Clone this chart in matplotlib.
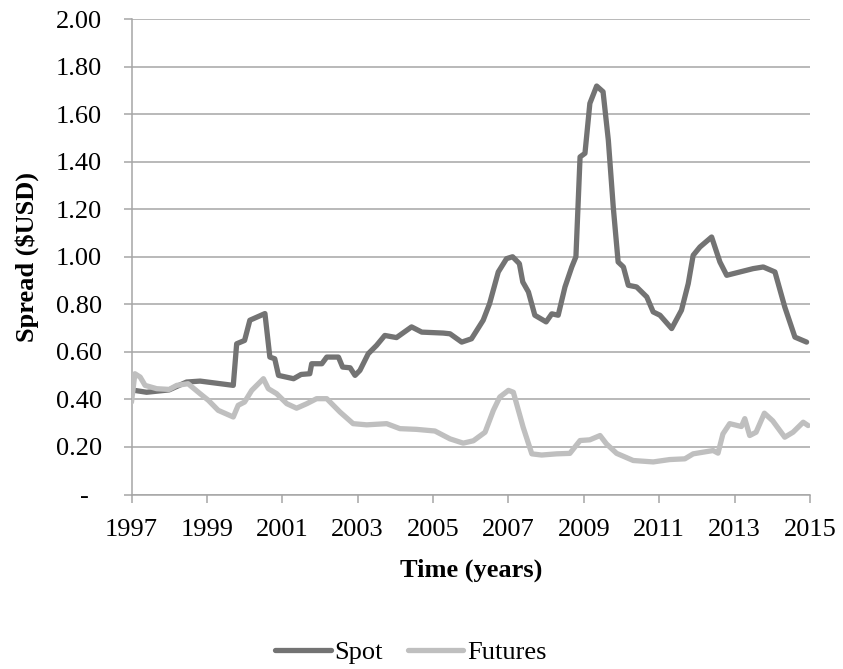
import matplotlib
matplotlib.use("Agg")
import matplotlib.pyplot as plt
from matplotlib.ticker import FixedLocator

spot_years = [1997.0, 1997.4, 1998.0, 1998.46, 1998.82, 1999.7, 1999.79, 2000.0, 2000.14, 2000.54,
              2000.67, 2000.8, 2000.9, 2001.3, 2001.5, 2001.73, 2001.78, 2002.05, 2002.18, 2002.49,
              2002.6, 2002.8, 2002.93, 2003.06, 2003.28, 2003.5, 2003.72, 2004.03, 2004.43, 2004.7,
              2005.27, 2005.45, 2005.76, 2006.02, 2006.33, 2006.5, 2006.73, 2006.95, 2007.11, 2007.29,
              2007.38, 2007.53, 2007.7, 2008.0, 2008.15, 2008.32, 2008.5, 2008.68, 2008.79, 2008.9,
              2009.03, 2009.16, 2009.34, 2009.51, 2009.65, 2009.78, 2009.91, 2010.05, 2010.18, 2010.4,
              2010.67, 2010.84, 2011.02, 2011.33, 2011.59, 2011.77, 2011.9, 2012.08, 2012.39, 2012.61,
              2012.79, 2013.14, 2013.49, 2013.76, 2014.07, 2014.33, 2014.6, 2014.91]
spot_values = [0.44, 0.43, 0.44, 0.473, 0.477, 0.459, 0.634, 0.648, 0.733, 0.761,
               0.578, 0.571, 0.501, 0.487, 0.505, 0.508, 0.55, 0.55, 0.578, 0.578,
               0.536, 0.533, 0.501, 0.522, 0.592, 0.627, 0.669, 0.66, 0.705, 0.683,
               0.679, 0.676, 0.641, 0.655, 0.733, 0.803, 0.936, 0.992, 1.0, 0.971,
               0.894, 0.852, 0.754, 0.726, 0.76, 0.754, 0.873, 0.957, 1.0, 1.42,
               1.435, 1.645, 1.718, 1.694, 1.49, 1.21, 0.978, 0.957, 0.88, 0.873,
               0.831, 0.768, 0.754, 0.698, 0.775, 0.887, 1.006, 1.041, 1.083, 0.978,
               0.922, 0.936, 0.95, 0.957, 0.936, 0.789, 0.662, 0.641]

futures_years = [1997.0, 1997.09, 1997.23, 1997.36, 1997.67, 1998.0, 1998.2, 1998.5, 1998.82, 1999.04,
                 1999.3, 1999.7, 1999.83, 2000.0, 2000.19, 2000.5, 2000.63, 2000.85, 2001.12, 2001.38,
                 2001.65, 2001.91, 2002.18, 2002.53, 2002.88, 2003.24, 2003.77, 2004.12, 2004.56, 2005.05,
                 2005.45, 2005.8, 2006.07, 2006.38, 2006.6, 2006.77, 2007.0, 2007.13, 2007.39, 2007.62,
                 2007.88, 2008.28, 2008.63, 2008.9, 2009.16, 2009.43, 2009.6, 2009.87, 2010.31, 2010.84,
                 2011.28, 2011.68, 2011.9, 2012.43, 2012.56, 2012.69, 2012.87, 2013.18, 2013.27, 2013.4,
                 2013.57, 2013.79, 2014.01, 2014.33, 2014.55, 2014.82, 2014.95]
futures_values = [0.389, 0.508, 0.494, 0.459, 0.445, 0.442, 0.459, 0.466, 0.424, 0.396,
                  0.354, 0.326, 0.375, 0.389, 0.438, 0.487, 0.445, 0.424, 0.382, 0.363,
                  0.382, 0.403, 0.403, 0.347, 0.298, 0.293, 0.298, 0.277, 0.274, 0.267,
                  0.234, 0.216, 0.226, 0.262, 0.354, 0.41, 0.438, 0.43, 0.283, 0.171,
                  0.166, 0.171, 0.173, 0.227, 0.23, 0.248, 0.213, 0.173, 0.143, 0.137,
                  0.147, 0.15, 0.171, 0.185, 0.174, 0.255, 0.298, 0.286, 0.319, 0.248,
                  0.262, 0.342, 0.31, 0.241, 0.262, 0.304, 0.29]

x_ticks = [1997, 1999, 2001, 2003, 2005, 2007, 2009, 2011, 2013, 2015]
y_ticks = [0.0, 0.2, 0.4, 0.6, 0.8, 1.0, 1.2, 1.4, 1.6, 1.8, 2.0]
y_tick_labels = ["-  ", "0.20", "0.40", "0.60", "0.80", "1.00", "1.20", "1.40", "1.60", "1.80", "2.00"]

plt.rcParams['font.family'] = ['Liberation Serif', 'DejaVu Serif']

fig = plt.figure(figsize=(8.43, 6.69), dpi=100)
ax = fig.add_axes([131.5 / 843, 1 - 494.5 / 669, (810 - 131.5) / 843, (494.5 - 19) / 669])

grid_c = "#A6A6A6"
ax.plot(spot_years, spot_values, color="#737373", lw=3.8, solid_joinstyle="round",
        solid_capstyle="round", label="Spot", zorder=3)
ax.plot(futures_years, futures_values, color="#BFBFBF", lw=3.8, solid_joinstyle="round",
        solid_capstyle="round", label="Futures", zorder=3)

ax.set_xlim(1997, 2015)
ax.set_ylim(0, 2.0)
ax.xaxis.set_major_locator(FixedLocator(x_ticks))
ax.set_xticklabels([str(t) for t in x_ticks])
ax.set_yticks(y_ticks)
ax.set_yticklabels(y_tick_labels)

ax.grid(axis="y", color=grid_c, lw=1.1, zorder=0)
ax.set_axisbelow(True)
for s in ["top", "right"]:
    ax.spines[s].set_visible(False)
for s in ["left", "bottom"]:
    ax.spines[s].set_color(grid_c)
    ax.spines[s].set_linewidth(1.1)
ax.tick_params(axis="y", length=5.5, width=1.1, color=grid_c, labelsize=19, pad=16)
ax.tick_params(axis="x", length=6, width=1.1, color=grid_c, labelsize=19, pad=12)

ax.set_xlabel("Time (years)", fontsize=19, fontweight="bold", labelpad=12)
ax.set_ylabel("Spread ($USD)", fontsize=19, fontweight="bold", labelpad=12)

leg = ax.legend(loc="center", bbox_to_anchor=(411 / 843, 1 - 652 / 669),
                bbox_transform=fig.transFigure, ncol=2, frameon=False, fontsize=19,
                handlelength=2.1, handletextpad=0.15, columnspacing=0.95)

fig.savefig("out.png", dpi=100)
